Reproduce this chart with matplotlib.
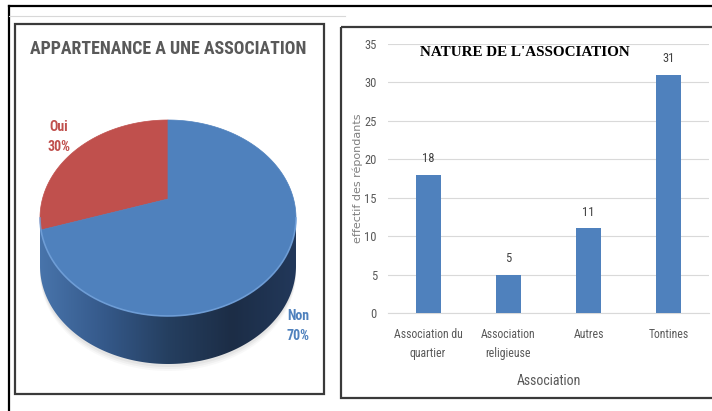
import numpy as np
import matplotlib
matplotlib.use('Agg')
import matplotlib.pyplot as plt
from matplotlib import font_manager
from matplotlib.patches import Rectangle, Polygon
from matplotlib.colors import LinearSegmentedColormap

# data
pie_labels = ['Oui', 'Non']
pie_values = [30, 70]
pie_colors = ['#c0504d', '#4f81bd']

bar_categories = ['Association du\nquartier', 'Association\nreligieuse', 'Autres', 'Tontines']
bar_values = [18, 5, 11, 31]
y_ticks = [0, 5, 10, 15, 20, 25, 30, 35]


def pick(names):
    for n in names:
        try:
            font_manager.findfont(n, fallback_to_default=False)
            return n
        except ValueError:
            pass
    return 'DejaVu Sans'


narrow = pick(['Liberation Sans Narrow', 'Roboto Condensed', 'Open Sans Condensed', 'Liberation Sans'])
serif = pick(['Liberation Serif', 'DejaVu Serif'])

W, H = 712, 411
fig = plt.figure(figsize=(W / 100, H / 100), dpi=100)
fig.patch.set_facecolor('white')

# background axes in pixel units for the frames and the 3d pie
bg = fig.add_axes([0, 0, 1, 1])
bg.set_xlim(0, W)
bg.set_ylim(H, 0)
bg.axis('off')

bg.plot([9, W], [6, 6], color='black', lw=1.6)
bg.plot([9, 9], [6, H], color='black', lw=1.6)
bg.plot([9, 345], [16, 16], color='#d8d8d8', lw=0.8)
bg.add_patch(Rectangle((15, 24), 309, 370, fill=False, ec='#3a3a3a', lw=1.6))
bg.add_patch(Rectangle((341, 27), 380, 371, fill=False, ec='#3a3a3a', lw=1.6))

# 3d pie: circle (u, v) projected with a bit of perspective
cx, cy, rx, ry, k, depth = 168, 218, 128, 98, 0.194, 48
c = np.sqrt(1 - k * k)


def proj(u, v):
    w = 1 + k * v
    return cx + rx * u * c / w, cy - ry * (v + k) / w


# side of the pie (front part only)
t0 = np.pi + np.arcsin(k)
t1 = 2 * np.pi - np.arcsin(k)
ts = np.linspace(t0, t1, 200)
ex, ey = proj(np.cos(ts), np.sin(ts))
side = np.column_stack([np.r_[ex, ex[::-1]], np.r_[ey, ey[::-1] + depth]])

# soft shadow
for off, a in [(7, 0.05), (5, 0.07), (3, 0.09)]:
    bg.add_patch(Polygon(side + [0, off], closed=True, fc='#808080', ec='none', alpha=a, zorder=1))

side_patch = Polygon(side, closed=True, fc='none', ec='none', zorder=2)
bg.add_patch(side_patch)
cmap = LinearSegmentedColormap.from_list('side', ['#4874ab', '#35598a', '#253f60', '#1c2d46', '#22385a'])
grad = np.linspace(0, 1, 256).reshape(1, -1)
im = bg.imshow(grad, extent=(ex.min(), ex.max(), ey.max() + depth, ey.min()),
               cmap=cmap, aspect='auto', zorder=2)
im.set_clip_path(side_patch)

# top face
start = np.pi / 2
total = sum(pie_values)
for val, col in zip(pie_values, pie_colors):
    span = 2 * np.pi * val / total
    tt = np.linspace(start, start + span, 200)
    px, py = proj(np.cos(tt), np.sin(tt))
    ax0, ay0 = proj(0, 0)
    pts = np.column_stack([np.r_[ax0, px], np.r_[ay0, py]])
    bg.add_patch(Polygon(pts, closed=True, fc=col, ec=col, lw=0.5, zorder=3))
    start += span

# highlight on the front edge of the top face
bg.plot(ex, ey, color='#74a3dc', lw=1.2, alpha=0.8, zorder=4)

bg.set_xlim(0, W)
bg.set_ylim(H, 0)

bg.text(59, 137, 'Oui\n30%', color='#c0504d', fontsize=10, fontweight='bold',
        family=narrow, ha='center', va='center', linespacing=1.5, zorder=5)
bg.text(298, 326, 'Non\n70%', color='#4f81bd', fontsize=10, fontweight='bold',
        family=narrow, ha='center', va='center', linespacing=1.5, zorder=5)

pie_title = bg.text(168, 49, 'APPARTENANCE A UNE ASSOCIATION', color='#595959', fontsize=14,
                    fontweight='bold', family=narrow, ha='center', va='center')

# bar chart
ax = fig.add_axes([388 / W, (H - 313) / H, (709 - 388) / W, (313 - 44) / H])
ax.patch.set_alpha(0)
x = np.arange(len(bar_values))
bars = ax.bar(x, bar_values, width=0.31, color='#4f81bd', zorder=3)
ax.bar_label(bars, padding=7, fontsize=9, color='#404040', family=narrow)
ax.set_xlim(-0.5, len(bar_values) - 0.5)
ax.set_ylim(0, 35)
ax.set_yticks(y_ticks)
ax.set_xticks(x)
ax.set_xticklabels(bar_categories, linespacing=1.55)
ax.grid(axis='y', color='#d9d9d9', lw=0.8, zorder=0)
for s in ['top', 'right', 'left']:
    ax.spines[s].set_visible(False)
ax.spines['bottom'].set_color('#d9d9d9')
ax.tick_params(length=0, colors='#595959', labelsize=9)
ax.tick_params(axis='x', labelsize=8.5, pad=11)
ax.tick_params(axis='y', pad=8)
for lab in ax.get_xticklabels() + ax.get_yticklabels():
    lab.set_family(narrow)
ax.set_ylabel('effectif des répondants', color='#7f7f7f', fontsize=8)
ax.yaxis.set_label_coords((358 - 388) / 321, 0.5)
ax.set_xlabel('Association', color='#595959', fontsize=10, family=narrow)
ax.xaxis.set_label_coords(0.5, -(381 - 313) / 269)
ax.xaxis.label.set_va('center')
ax.yaxis.label.set_va('center')

bar_title = fig.text(525 / W, 1 - 52 / H, "NATURE DE L'ASSOCIATION", color='black', fontsize=14,
                     fontweight='bold', family=serif, ha='center', va='center')

# fit the two titles to their width in the picture
r = fig.canvas.get_renderer()
for t, wpx in [(pie_title, 278), (bar_title, 212)]:
    bb = t.get_window_extent(r)
    t.set_fontsize(t.get_fontsize() * wpx / bb.width)

fig.savefig('out.png', dpi=100)
